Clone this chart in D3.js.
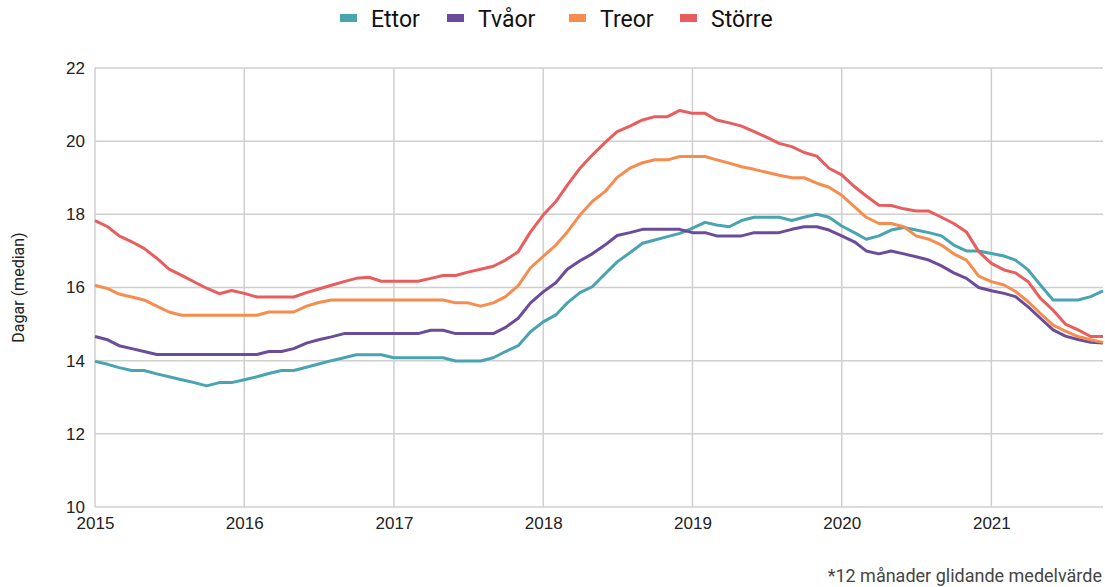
<!DOCTYPE html>
<html>
<head>
<meta charset="utf-8">
<script src="https://cdn.jsdelivr.net/npm/d3@7"></script>
<style>
  body { margin: 0; background: #fff; }
  svg { font-family: Roboto, "Noto Sans", sans-serif; }
  .grid line { stroke: #cfcfcf; stroke-width: 1.5; }
  .tick text { fill: #222; font-size: 17px; }
</style>
</head>
<body>
<div id="chart"></div>
<script>
const seriesNames = ["Ettor", "Tvåor", "Treor", "Större"];
const seriesColors = ["#48a4b0", "#6b4c9a", "#f68d4f", "#e85d5d"];
const startMonth = "2015-01";
const yTicks = [10, 12, 14, 16, 18, 20, 22];
const xTickYears = [2015, 2016, 2017, 2018, 2019, 2020, 2021];

// monthly values, Jan 2015 - Oct 2021
const ettor = [
  13.98, 13.90, 13.81, 13.73, 13.73, 13.64, 13.56, 13.48, 13.40, 13.31, 13.40, 13.40,
  13.48, 13.56, 13.65, 13.73, 13.73, 13.82, 13.91, 14.00, 14.08, 14.16, 14.16, 14.16,
  14.08, 14.08, 14.08, 14.08, 14.08, 13.99, 13.99, 13.99, 14.08, 14.25, 14.41, 14.79,
  15.06, 15.25, 15.58, 15.86, 16.02, 16.37, 16.70, 16.95, 17.21, 17.30, 17.39, 17.48,
  17.62, 17.78, 17.71, 17.66, 17.83, 17.92, 17.92, 17.92, 17.83, 17.92, 18.00, 17.92,
  17.68, 17.50, 17.32, 17.41, 17.57, 17.64, 17.57, 17.50, 17.41, 17.16, 17.00, 17.00,
  16.93, 16.86, 16.75, 16.48, 16.07, 15.66, 15.66, 15.66, 15.75, 15.91
];
const tvaor = [
  14.66, 14.57, 14.41, 14.33, 14.25, 14.17, 14.17, 14.17, 14.17, 14.17, 14.17, 14.17,
  14.17, 14.17, 14.25, 14.25, 14.33, 14.48, 14.57, 14.65, 14.74, 14.74, 14.74, 14.74,
  14.74, 14.74, 14.74, 14.83, 14.83, 14.74, 14.74, 14.74, 14.74, 14.91, 15.16, 15.58,
  15.88, 16.13, 16.50, 16.73, 16.92, 17.16, 17.42, 17.50, 17.59, 17.59, 17.59, 17.59,
  17.50, 17.50, 17.41, 17.41, 17.41, 17.50, 17.50, 17.50, 17.59, 17.66, 17.66, 17.57,
  17.41, 17.25, 17.00, 16.92, 17.00, 16.92, 16.84, 16.75, 16.59, 16.40, 16.25, 16.00,
  15.91, 15.84, 15.75, 15.47, 15.16, 14.84, 14.67, 14.58, 14.50, 14.48
];
const treor = [
  16.06, 15.97, 15.82, 15.74, 15.66, 15.49, 15.33, 15.24, 15.24, 15.24, 15.24, 15.24,
  15.24, 15.24, 15.33, 15.33, 15.33, 15.49, 15.59, 15.66, 15.66, 15.66, 15.66, 15.66,
  15.66, 15.66, 15.66, 15.66, 15.66, 15.58, 15.58, 15.49, 15.58, 15.75, 16.05, 16.54,
  16.85, 17.16, 17.52, 17.98, 18.35, 18.62, 19.01, 19.26, 19.41, 19.49, 19.49, 19.58,
  19.58, 19.58, 19.49, 19.40, 19.30, 19.23, 19.15, 19.07, 19.00, 19.00, 18.85, 18.74,
  18.52, 18.21, 17.92, 17.75, 17.75, 17.66, 17.41, 17.32, 17.16, 16.92, 16.75, 16.31,
  16.16, 16.07, 15.89, 15.61, 15.29, 14.97, 14.81, 14.66, 14.57, 14.50
];
const storre = [
  17.83, 17.66, 17.41, 17.25, 17.07, 16.80, 16.50, 16.33, 16.15, 15.98, 15.83, 15.92,
  15.84, 15.74, 15.74, 15.74, 15.74, 15.86, 15.96, 16.06, 16.16, 16.25, 16.28, 16.17,
  16.17, 16.17, 16.17, 16.25, 16.33, 16.33, 16.42, 16.50, 16.58, 16.75, 16.98, 17.52,
  17.98, 18.35, 18.80, 19.26, 19.62, 19.96, 20.26, 20.41, 20.58, 20.67, 20.67, 20.84,
  20.76, 20.76, 20.58, 20.50, 20.41, 20.26, 20.11, 19.94, 19.85, 19.69, 19.59, 19.26,
  19.08, 18.76, 18.50, 18.25, 18.24, 18.15, 18.09, 18.09, 17.92, 17.75, 17.52, 16.98,
  16.66, 16.48, 16.40, 16.16, 15.70, 15.38, 15.00, 14.84, 14.66, 14.66
];
const seriesValues = [ettor, tvaor, treor, storre];

const width = 1105, height = 587;
const margin = { top: 68, right: 2, bottom: 80, left: 95 };

const svg = d3.select("#chart").append("svg")
  .attr("width", width)
  .attr("height", height);

const parseMonth = d3.timeParse("%Y-%m");
const t0 = parseMonth(startMonth);
const dates = ettor.map((d, i) => d3.timeMonth.offset(t0, i));

const x = d3.scaleTime()
  .domain([dates[0], dates[dates.length - 1]])
  .range([margin.left, width - margin.right]);

const y = d3.scaleLinear()
  .domain([10, 22])
  .range([height - margin.bottom, margin.top]);

// gridlines
svg.append("g")
  .attr("class", "grid")
  .selectAll("line.h")
  .data(yTicks)
  .join("line")
  .attr("x1", margin.left)
  .attr("x2", width - margin.right)
  .attr("y1", d => y(d))
  .attr("y2", d => y(d));

svg.append("g")
  .attr("class", "grid")
  .selectAll("line.v")
  .data(xTickYears)
  .join("line")
  .attr("x1", d => x(new Date(d, 0, 1)))
  .attr("x2", d => x(new Date(d, 0, 1)))
  .attr("y1", margin.top)
  .attr("y2", height - margin.bottom);

// axes (labels only)
const yAxis = d3.axisLeft(y).tickValues(yTicks).tickSize(0).tickPadding(10);
svg.append("g")
  .attr("transform", `translate(${margin.left},0)`)
  .call(yAxis)
  .call(g => g.select(".domain").remove());

const xAxis = d3.axisBottom(x)
  .tickValues(xTickYears.map(d => new Date(d, 0, 1)))
  .tickFormat(d3.timeFormat("%Y"))
  .tickSize(0).tickPadding(10);
svg.append("g")
  .attr("transform", `translate(0,${height - margin.bottom})`)
  .call(xAxis)
  .call(g => g.select(".domain").remove());

// y label
svg.append("text")
  .attr("transform", `translate(24,${(margin.top + height - margin.bottom) / 2}) rotate(-90)`)
  .attr("text-anchor", "middle")
  .attr("fill", "#222")
  .style("font-size", "16px")
  .text("Dagar (median)");

// lines
const line = d3.line()
  .x((d, i) => x(dates[i]))
  .y(d => y(d));

svg.selectAll(".series")
  .data(seriesValues)
  .join("path")
  .attr("class", "series")
  .attr("fill", "none")
  .attr("stroke", (d, i) => seriesColors[i])
  .attr("stroke-width", 3)
  .attr("stroke-linejoin", "round")
  .attr("d", line);

// legend
const legendX = [340, 447, 569, 680];
const legend = svg.append("g");
seriesNames.forEach((name, i) => {
  legend.append("rect")
    .attr("x", legendX[i])
    .attr("y", 14)
    .attr("width", 17)
    .attr("height", 8)
    .attr("fill", seriesColors[i]);
  legend.append("text")
    .attr("x", legendX[i] + 31)
    .attr("y", 27)
    .attr("fill", "#111")
    .style("font-size", "23px")
    .text(name);
});

// footnote
svg.append("text")
  .attr("x", width - 3)
  .attr("y", 582)
  .attr("text-anchor", "end")
  .attr("fill", "#444")
  .style("font-size", "18px")
  .text("*12 månader glidande medelvärde");
</script>
</body>
</html>
